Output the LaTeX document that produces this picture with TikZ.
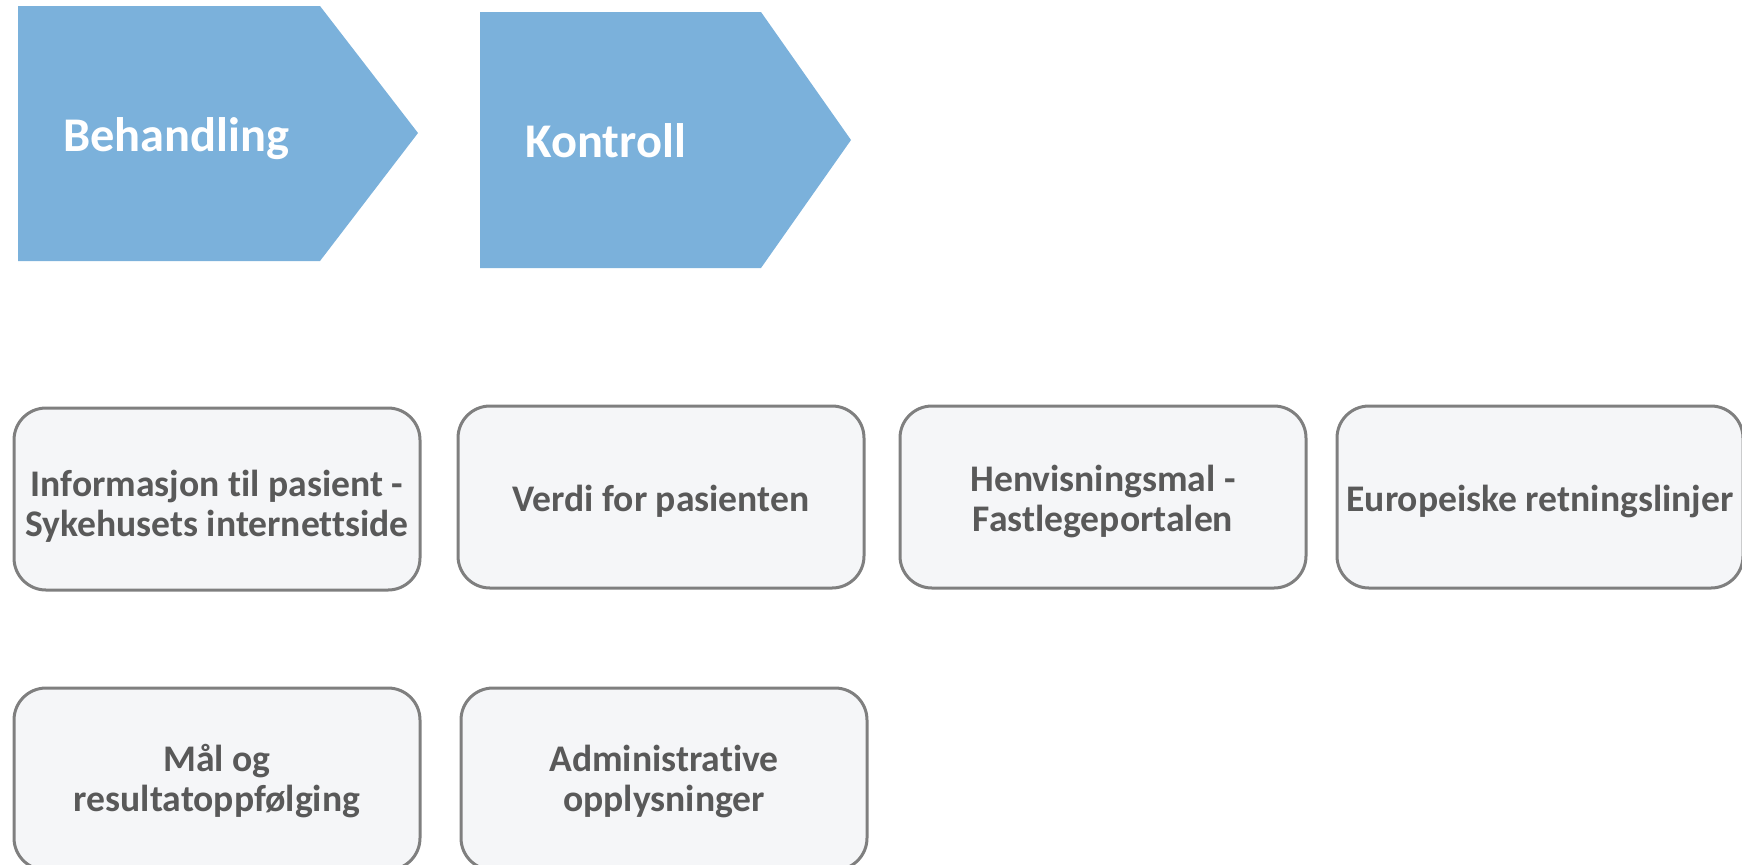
\documentclass[tikz,border=0pt]{standalone}
\usepackage{fontspec}
\setmainfont{Carlito}[Ligatures=NoCommon]
\definecolor{stepblue}{HTML}{7BB1DB}
\definecolor{boxfill}{HTML}{F5F6F8}
\definecolor{boxline}{HTML}{7F7F7F}
\definecolor{boxtext}{HTML}{595959}
\begin{document}
\begin{tikzpicture}[x=0.5pt, y=-0.5pt,
        stepshape/.style={fill=stepblue},
        steptext/.style={anchor=west, inner sep=0pt, text=white, font=\fontsize{24.2}{26}\selectfont\bfseries},
        infobox/.style={draw=boxline, line width=1.5pt, fill=boxfill, rounded corners=16pt,
            minimum width=203pt, minimum height=91pt},
        boxlabel/.style={align=center, text=boxtext, inner sep=0pt,
            font=\fontsize{18.8}{20}\selectfont\bfseries}]
        \useasboundingbox (0,0) rectangle (1742,864);

        % process steps
        \fill[stepshape] (18,6) -- (320,6) -- (418,133) -- (320,261) -- (18,261) -- cycle;
        \fill[stepshape] (480,12) -- (761,12) -- (851,140) -- (761,268) -- (480,268) -- cycle;
        \node[steptext] (behandling) at (63,139) {Behandling};
        \node[steptext] (kontroll)   at (525,141) {Kontroll};

        % first row
        \node[infobox] (info)     at (217,499)  {};
        \node[infobox] (verdi)    at (661,497)  {};
        \node[infobox] (henvis)   at (1103,497) {};
        \node[infobox] (europa)   at (1540,497) {};
        \node[boxlabel] at ([yshift=-3.5pt]info)   {Informasjon til pasient -\\Sykehusets internettside};
        \node[boxlabel] at ([yshift=-2pt]verdi)    {Verdi for pasienten};
        \node[boxlabel] at ([yshift=-2pt]henvis)   {Henvisningsmal -\\Fastlegeportalen};
        \node[boxlabel] at ([yshift=-2pt]europa)   {Europeiske retningslinjer};

        % second row
        \node[infobox] (maal)     at (217,779)  {};
        \node[infobox] (admin)    at (664,779)  {};
        \node[boxlabel] at ([yshift=-1pt]maal)     {Mål og\\resultatoppfølging};
        \node[boxlabel] at ([yshift=-1pt]admin)    {Administrative\\opplysninger};
        \end{tikzpicture}
\end{document}
